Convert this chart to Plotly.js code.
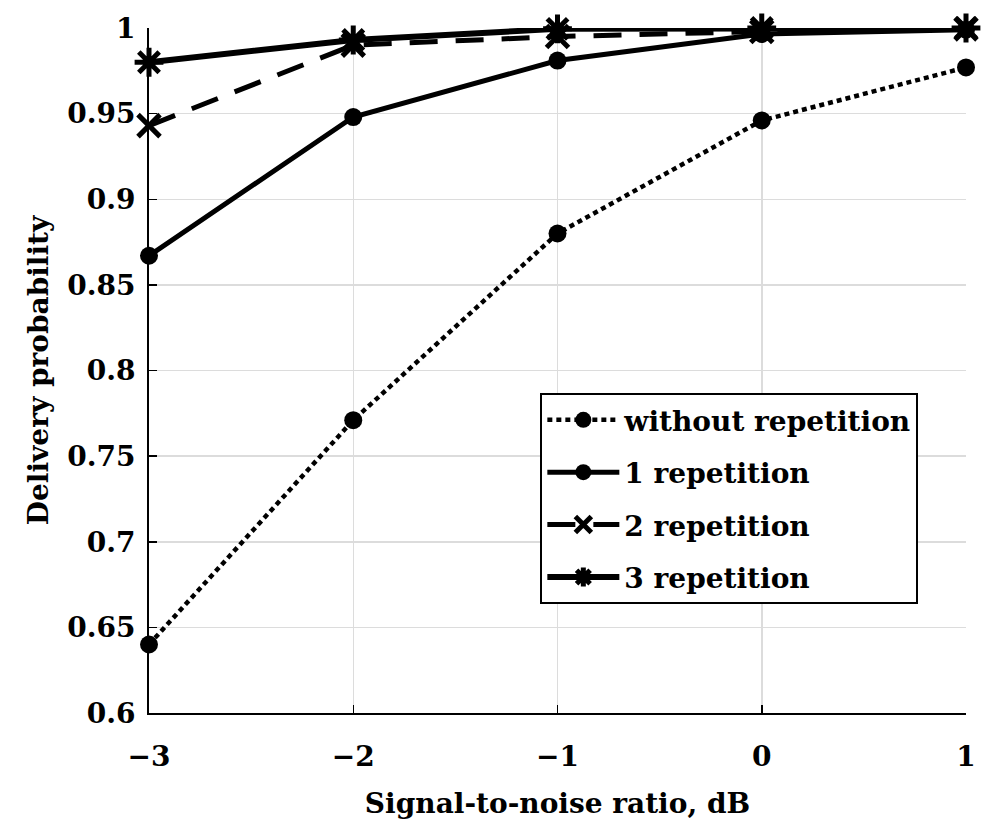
<!DOCTYPE html>
<html>
<head>
<meta charset="utf-8">
<script src="https://cdn.plot.ly/plotly-3.0.1.min.js"></script>
<style>html,body{margin:0;padding:0;background:#fff;}#chart{width:996px;height:825px;}</style>
</head>
<body>
<div id="chart"></div>
<script>
const snr = [-3, -2, -1, 0, 1];
const withoutRep = [0.640, 0.771, 0.880, 0.946, 0.977];
const rep1 = [0.867, 0.948, 0.981, 0.9965, 0.999];
const rep2 = [0.943, 0.990, 0.995, 0.998, 0.9995];
const rep3 = [0.980, 0.993, 0.9995, 1.0, 1.0];
const names = ["without repetition", "1 repetition", "2 repetition", "3 repetition"];
const yTicks = [0.6, 0.65, 0.7, 0.75, 0.8, 0.85, 0.9, 0.95, 1];
const xTicks = [-3, -2, -1, 0, 1];

const font = {family: "DejaVu Serif", size: 28, color: "#000", weight: "bold"};

const traces = [
  {x: snr, y: withoutRep, name: names[0], legendgroup: "g0", mode: "lines+markers",
   line: {color: "#000", width: 4.5, dash: "5px,4px"},
   marker: {symbol: "circle", size: 18, color: "#000"}, cliponaxis: false},
  {x: snr, y: rep1, name: names[1], legendgroup: "g1", mode: "lines+markers",
   line: {color: "#000", width: 5},
   marker: {symbol: "circle", size: 18, color: "#000"}, cliponaxis: false},
  {x: snr, y: rep2, name: names[2], legendgroup: "g2", mode: "lines+markers",
   line: {color: "#000", width: 5, dash: "28px,18px"},
   marker: {symbol: "x-thin-open", size: 22, color: "#000", line: {color: "#000", width: 5}}, cliponaxis: false},
  {x: snr, y: rep3, name: names[3], legendgroup: "g3", mode: "lines+markers",
   line: {color: "#000", width: 6},
   marker: {symbol: "asterisk-open", size: 24, color: "#000", line: {color: "#000", width: 5}}, cliponaxis: false}
];

const layout = {
  width: 996, height: 825,
  margin: {l: 149, r: 30, t: 28, b: 112},
  paper_bgcolor: "#fff", plot_bgcolor: "#fff",
  font: font,
  showlegend: true,
  legend: {x: 0.479, y: 0.467, xanchor: "left", yanchor: "top",
           bgcolor: "#fff", bordercolor: "#000", borderwidth: 2,
           font: font, itemwidth: 72, tracegroupgap: 13, traceorder: "grouped"},
  xaxis: {range: [-3, 1], tickvals: xTicks, showgrid: true, gridcolor: "#dcdcdc", gridwidth: 1.5,
          showline: true, linecolor: "#000", linewidth: 2, ticks: "inside", ticklen: 8, tickwidth: 1.5, tickcolor: "#000",
          zeroline: false, tickfont: font, ticklabelstandoff: 17,
          title: {text: "Signal-to-noise ratio, dB", font: font, standoff: 22}},
  yaxis: {range: [0.6, 1], tickvals: yTicks, showgrid: true, gridcolor: "#dcdcdc", gridwidth: 1.5,
          showline: true, linecolor: "#000", linewidth: 2, ticks: "inside", ticklen: 8, tickwidth: 1.5, tickcolor: "#000",
          zeroline: false, tickfont: font, ticklabelstandoff: 6,
          title: {text: "Delivery probability", font: font, standoff: 10}}
};

Plotly.newPlot("chart", traces, layout, {displayModeBar: false, staticPlot: true});
</script>
</body>
</html>
